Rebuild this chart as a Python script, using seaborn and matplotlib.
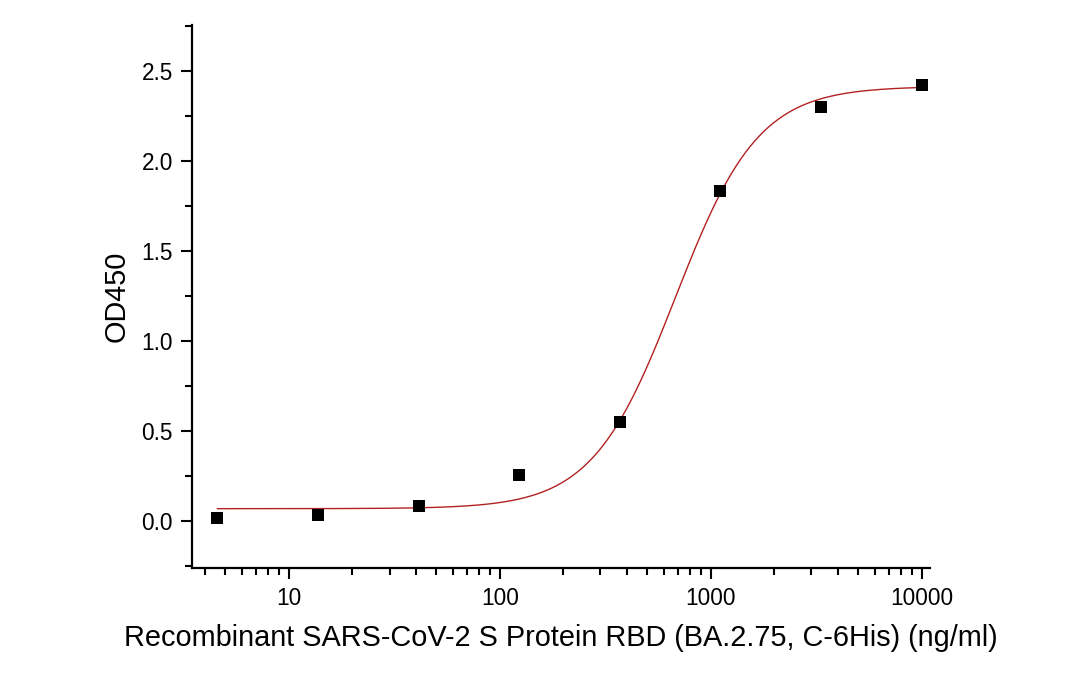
import numpy as np
import pandas as pd
import matplotlib
matplotlib.use("Agg")
import matplotlib.pyplot as plt
import matplotlib.ticker as mticker
import seaborn as sns

# Measured points (3-fold dilution series)
conc = [4.57, 13.7, 41.2, 123.5, 370.4, 1111, 3333, 10000]
od450 = [0.02, 0.035, 0.085, 0.255, 0.55, 1.835, 2.30, 2.425]

# 4PL fit parameters
bottom, top, ec50, hill = 0.07, 2.415, 680.0, 2.2

sns.set_style("ticks")
plt.rcParams['font.family'] = ['Liberation Sans', 'DejaVu Sans']

fig = plt.figure(figsize=(10.8, 6.93), dpi=100)
ax = fig.add_axes([0.178, 0.181, 0.683, 0.783])

xfit = np.logspace(np.log10(conc[0]), np.log10(conc[-1]), 300)
yfit = bottom + (top - bottom) / (1 + (ec50 / xfit) ** hill)
fit = pd.DataFrame({"conc": xfit, "od": yfit})
pts = pd.DataFrame({"conc": conc, "od": od450})

sns.lineplot(data=fit, x="conc", y="od", color="#b22222", lw=1.0, ax=ax)
sns.scatterplot(data=pts, x="conc", y="od", marker="s", s=85, color="black",
                edgecolor="black", linewidth=0, zorder=3, ax=ax)

ax.set_xscale("log")
ax.set_xlim(3.48, 10950)
ax.set_ylim(-0.257, 2.756)
ax.xaxis.set_major_locator(mticker.FixedLocator([10, 100, 1000, 10000]))
ax.xaxis.set_major_formatter(mticker.FixedFormatter(["10", "100", "1000", "10000"]))
ax.xaxis.set_minor_locator(mticker.LogLocator(base=10, subs=np.arange(2, 10)))
ax.yaxis.set_major_locator(mticker.MultipleLocator(0.5))
ax.yaxis.set_major_formatter(mticker.FormatStrFormatter("%.1f"))
ax.yaxis.set_minor_locator(mticker.MultipleLocator(0.25))

for s in ["top", "right"]:
    ax.spines[s].set_visible(False)
for s in ["left", "bottom"]:
    ax.spines[s].set_linewidth(1.6)
    ax.spines[s].set_color("black")

ax.tick_params(which="major", direction="out", length=8, width=1.5, labelsize=16.3,
               colors="black", labelcolor="black", pad=6)
ax.tick_params(which="minor", direction="out", length=5, width=1.5, colors="black")

ax.set_xlabel("Recombinant SARS-CoV-2 S Protein RBD (BA.2.75, C-6His) (ng/ml)",
              fontsize=20.8, labelpad=10, color="black")
ax.set_ylabel("OD450", fontsize=20.8, labelpad=8, color="black")

fig.savefig("out.png", dpi=100, facecolor="white")
